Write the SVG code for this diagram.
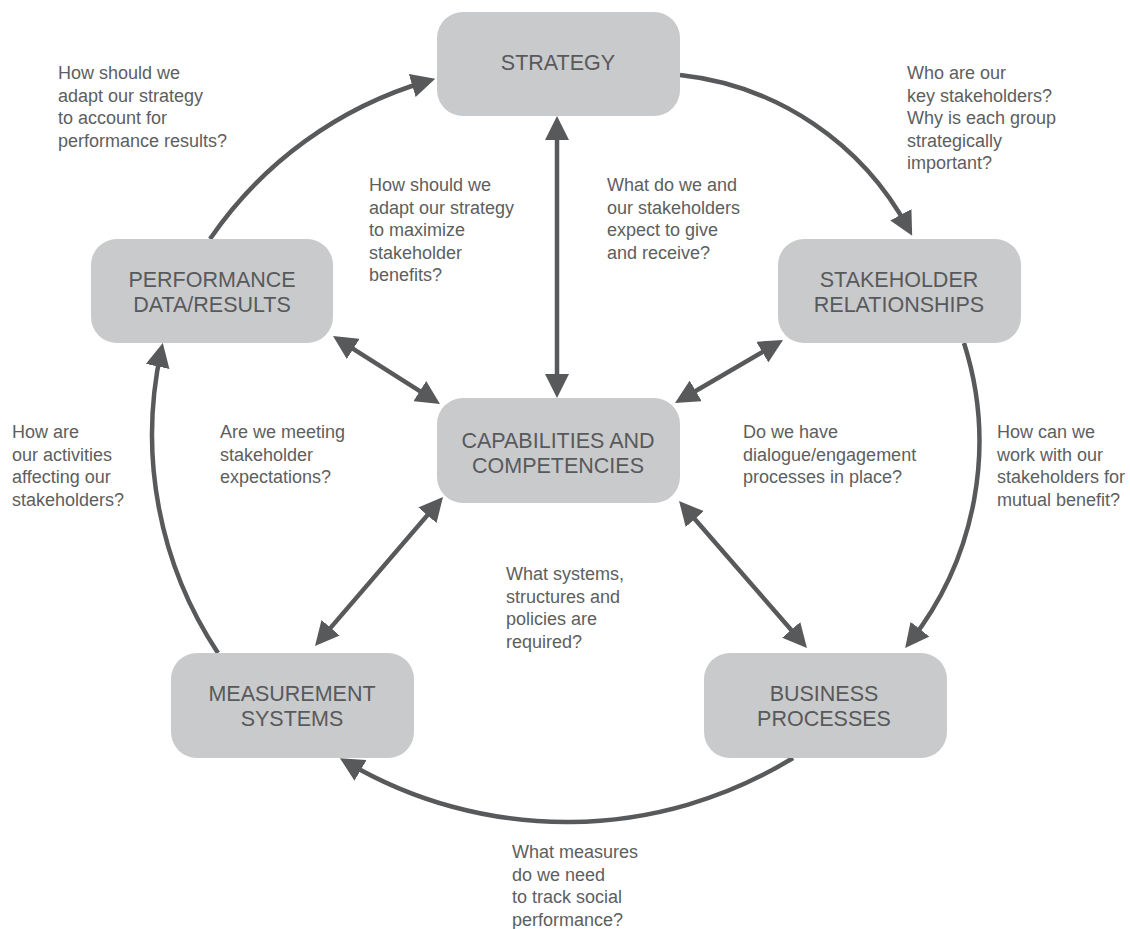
<svg xmlns="http://www.w3.org/2000/svg" width="1130" height="929" viewBox="0 0 1130 929">
<style>
.box{fill:#c9cacc}
.nt{font-family:"Liberation Sans",Arial,sans-serif;font-size:21.5px;fill:#58595b;text-anchor:middle}
.q{font-family:"Liberation Sans",Arial,sans-serif;font-size:18px;fill:#5d5e60}
.c{fill:none;stroke:#58595b;stroke-width:4.5}
.one{marker-end:url(#ah)}
.two{marker-start:url(#ah);marker-end:url(#ah)}
</style>
<defs>
<marker id="ah" viewBox="0 0 24 24" refX="16" refY="12" markerWidth="24" markerHeight="24" markerUnits="userSpaceOnUse" orient="auto-start-reverse">
<path d="M0,0 L24,12 L0,24 z" fill="#58595b"/>
</marker>
</defs>
<rect width="1130" height="929" fill="#ffffff"/>
<g id="connectors">
<path class="c one" d="M210,239 A400,400 0 0 1 427.6,81"/>
<path class="c one" d="M680,75 A295,295 0 0 1 908.4,228.8"/>
<path class="c one" d="M964,343 A324,324 0 0 1 910.1,641.8"/>
<path class="c one" d="M793,758 A433,433 0 0 1 346.8,762.2"/>
<path class="c one" d="M218,653 A394,394 0 0 1 161.1,350.8"/>
<path class="c two" d="M557,124 L557,390"/>
<path class="c two" d="M339.75,340.3 L433.25,399.7"/>
<path class="c two" d="M776.1,344 L681.9,399"/>
<path class="c two" d="M437.8,503.1 L320.2,639.9"/>
<path class="c two" d="M684.3,507 L801.7,642"/>
</g>
<g id="strategy">
<rect class="box" x="437" y="12" width="243" height="104" rx="26"/>
<text class="nt" x="558" y="70">STRATEGY</text>
</g>
<g id="stakeholder-relationships">
<rect class="box" x="778" y="239" width="243" height="104" rx="26"/>
<text class="nt" x="899" y="287">STAKEHOLDER</text>
<text class="nt" x="899" y="312">RELATIONSHIPS</text>
</g>
<g id="performance-data">
<rect class="box" x="91" y="239" width="242" height="104" rx="26"/>
<text class="nt" x="212" y="287">PERFORMANCE</text>
<text class="nt" x="212" y="312">DATA/RESULTS</text>
</g>
<g id="capabilities">
<rect class="box" x="437" y="398" width="243" height="105" rx="26"/>
<text class="nt" x="558" y="448">CAPABILITIES AND</text>
<text class="nt" x="558" y="473">COMPETENCIES</text>
</g>
<g id="business-processes">
<rect class="box" x="704" y="653" width="243" height="105" rx="26"/>
<text class="nt" x="824" y="701">BUSINESS</text>
<text class="nt" x="824" y="726">PROCESSES</text>
</g>
<g id="measurement-systems">
<rect class="box" x="171" y="653" width="243" height="105" rx="26"/>
<text class="nt" x="292" y="701">MEASUREMENT</text>
<text class="nt" x="292" y="726">SYSTEMS</text>
</g>
<g id="questions">
<text class="q" x="58" y="79">How should we<tspan x="58" dy="22.6">adapt our strategy</tspan><tspan x="58" dy="22.6">to account for</tspan><tspan x="58" dy="22.6">performance results?</tspan></text>
<text class="q" x="369" y="191">How should we<tspan x="369" dy="22.5">adapt our strategy</tspan><tspan x="369" dy="22.5">to maximize</tspan><tspan x="369" dy="22.5">stakeholder</tspan><tspan x="369" dy="22.5">benefits?</tspan></text>
<text class="q" x="607" y="191">What do we and<tspan x="607" dy="22.5">our stakeholders</tspan><tspan x="607" dy="22.5">expect to give</tspan><tspan x="607" dy="22.5">and receive?</tspan></text>
<text class="q" x="907" y="79">Who are our<tspan x="907" dy="22.5">key stakeholders?</tspan><tspan x="907" dy="22.5">Why is each group</tspan><tspan x="907" dy="22.5">strategically</tspan><tspan x="907" dy="22.5">important?</tspan></text>
<text class="q" x="12" y="438">How are<tspan x="12" dy="22.5">our activities</tspan><tspan x="12" dy="22.5">affecting our</tspan><tspan x="12" dy="22.5">stakeholders?</tspan></text>
<text class="q" x="220" y="438">Are we meeting<tspan x="220" dy="22.5">stakeholder</tspan><tspan x="220" dy="22.5">expectations?</tspan></text>
<text class="q" x="743" y="438">Do we have<tspan x="743" dy="22.5">dialogue/engagement</tspan><tspan x="743" dy="22.5">processes in place?</tspan></text>
<text class="q" x="997" y="438">How can we<tspan x="997" dy="22.5">work with our</tspan><tspan x="997" dy="22.5">stakeholders for</tspan><tspan x="997" dy="22.5">mutual benefit?</tspan></text>
<text class="q" x="506" y="580">What systems,<tspan x="506" dy="22.5">structures and</tspan><tspan x="506" dy="22.5">policies are</tspan><tspan x="506" dy="22.5">required?</tspan></text>
<text class="q" x="512" y="858">What measures<tspan x="512" dy="22.5">do we need</tspan><tspan x="512" dy="22.5">to track social</tspan><tspan x="512" dy="22.5">performance?</tspan></text>
</g>
</svg>
